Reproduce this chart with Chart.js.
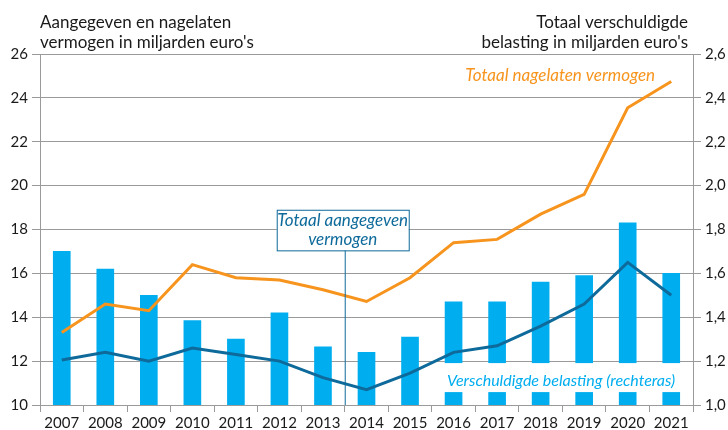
<!DOCTYPE html>
<html lang="nl">
<head>
    <meta charset="UTF-8">
    <title>Aangegeven en nagelaten vermogen</title>
    <style>
        html, body { margin: 0; padding: 0; background: #fff; }
        #wrap { width: 728px; height: 430px; }
    </style>
</head>
<body>
    <div id="wrap">
        <canvas id="vermogenChart" width="728" height="430"></canvas>
    </div>

    <script src="https://cdn.jsdelivr.net/npm/chart.js"></script>
    <script>
        // Data
        const years = ['2007', '2008', '2009', '2010', '2011', '2012', '2013', '2014',
                       '2015', '2016', '2017', '2018', '2019', '2020', '2021'];
        // Totaal aangegeven vermogen (miljard euro, linkeras)
        const aangegeven = [17.0, 16.2, 15.0, 13.85, 13.0, 14.2, 12.65, 12.4,
                            13.1, 14.7, 14.7, 15.6, 15.9, 18.3, 16.0];
        // Totaal nagelaten vermogen (miljard euro, linkeras)
        const nagelaten = [13.3, 14.6, 14.3, 16.4, 15.8, 15.7, 15.25, 14.72,
                           15.8, 17.4, 17.55, 18.7, 19.6, 23.55, 24.75];
        // Verschuldigde belasting (miljard euro, rechteras)
        const belasting = [1.205, 1.24, 1.2, 1.26, 1.23, 1.2, 1.125, 1.07,
                           1.145, 1.24, 1.27, 1.36, 1.46, 1.65, 1.5];

        const leftTitle = ['Aangegeven en nagelaten', "vermogen in miljarden euro's"];
        const rightTitle = ['Totaal verschuldigde', "belasting in miljarden euro's"];

        const cyan = '#00aeef';
        const orange = '#f7941d';
        const darkBlue = '#0e6a9a';
        const gridColor = '#9a9a9a';
        const fontFamily = 'Lato, "Open Sans", sans-serif';

        // draws titles and labels on the canvas
        const labelsPlugin = {
            id: 'labels',
            afterDatasetsDraw(chart) {
                const c = chart.ctx;
                const x = chart.scales.x;
                const yL = chart.scales.y;
                const area = chart.chartArea;
                c.save();

                // titles
                c.fillStyle = '#1a1a1a';
                c.font = '17px ' + fontFamily;
                c.textBaseline = 'alphabetic';
                c.textAlign = 'left';
                c.fillText(leftTitle[0], 40, 28);
                c.fillText(leftTitle[1], 40, 48);
                c.textAlign = 'right';
                c.fillText(rightTitle[0], 688, 28);
                c.fillText(rightTitle[1], 688, 48);

                // orange series label
                c.font = 'italic 17px ' + fontFamily;
                c.fillStyle = orange;
                c.textAlign = 'center';
                c.textBaseline = 'middle';
                c.fillText('Totaal nagelaten vermogen', x.getPixelForValue(11.45), yL.getPixelForValue(25.04));

                // belasting label with white background
                const bx = x.getPixelForValue(11.47);
                const by = yL.getPixelForValue(11.09);
                c.fillStyle = '#fff';
                c.fillRect(bx - 124, by - 18, 248, 29);
                c.font = 'italic 16px ' + fontFamily;
                c.fillStyle = cyan;
                c.fillText('Verschuldigde belasting (rechteras)', bx, by);

                // aangegeven vermogen label in a box, with line down
                c.font = 'italic 17px ' + fontFamily;
                const lx = x.getPixelForValue(6.5);
                const top = yL.getPixelForValue(18.9);
                const bottom = yL.getPixelForValue(17.05);
                c.strokeStyle = darkBlue;
                c.lineWidth = 1;
                c.beginPath();
                c.moveTo(lx + 0.5, bottom);
                c.lineTo(lx + 0.5, area.bottom);
                c.stroke();
                c.fillStyle = '#fff';
                c.fillRect(lx - 68, top, 132, bottom - top);
                c.strokeRect(lx - 68 + 0.5, top + 0.5, 132, bottom - top);
                c.fillStyle = darkBlue;
                c.fillText('Totaal aangegeven', lx - 2, top + 11);
                c.fillText('vermogen', lx - 2, top + 30);

                c.restore();
            }
        };

        const ctx = document.getElementById('vermogenChart').getContext('2d');
        const chart = new Chart(ctx, {
            type: 'bar',
            data: {
                labels: years,
                datasets: [
                    {
                        type: 'line',
                        label: 'Totaal nagelaten vermogen',
                        data: nagelaten,
                        yAxisID: 'y',
                        borderColor: orange,
                        borderWidth: 3,
                        pointRadius: 0,
                        tension: 0,
                        fill: false,
                        order: 1
                    },
                    {
                        type: 'line',
                        label: 'Verschuldigde belasting',
                        data: belasting,
                        yAxisID: 'y2',
                        borderColor: darkBlue,
                        borderWidth: 3,
                        pointRadius: 0,
                        tension: 0,
                        fill: false,
                        order: 1
                    },
                    {
                        type: 'bar',
                        label: 'Totaal aangegeven vermogen',
                        data: aangegeven,
                        yAxisID: 'y',
                        backgroundColor: cyan,
                        barThickness: 17,
                        order: 2
                    }
                ]
            },
            options: {
                responsive: false,
                animation: false,
                layout: {
                    padding: { top: 54, left: 0, right: 0, bottom: 0 }
                },
                plugins: {
                    legend: { display: false },
                    tooltip: { enabled: false }
                },
                scales: {
                    x: {
                        offset: true,
                        afterFit(scale) { scale.height = 25; },
                        grid: {
                            offset: true,
                            drawOnChartArea: false,
                            color: gridColor,
                            tickLength: 7
                        },
                        border: { color: gridColor },
                        ticks: {
                            color: '#1a1a1a',
                            padding: 2,
                            maxRotation: 0,
                            autoSkip: false,
                            font: { family: fontFamily, size: 15 }
                        }
                    },
                    y: {
                        position: 'left',
                        min: 10,
                        max: 26,
                        afterFit(scale) { scale.width = 40; },
                        grid: {
                            color: gridColor,
                            tickLength: 8
                        },
                        border: { color: gridColor },
                        ticks: {
                            stepSize: 2,
                            color: '#1a1a1a',
                            padding: 4,
                            font: { family: fontFamily, size: 15 }
                        }
                    },
                    y2: {
                        position: 'right',
                        min: 1.0,
                        max: 2.6,
                        afterFit(scale) { scale.width = 35; },
                        grid: {
                            drawOnChartArea: false,
                            color: gridColor,
                            tickLength: 8
                        },
                        border: { color: gridColor },
                        ticks: {
                            stepSize: 0.2,
                            color: '#1a1a1a',
                            padding: 4,
                            font: { family: fontFamily, size: 15 },
                            callback: (v) => v.toFixed(1).replace('.', ',')
                        }
                    }
                }
            },
            plugins: [labelsPlugin]
        });
    </script>
</body>
</html>
